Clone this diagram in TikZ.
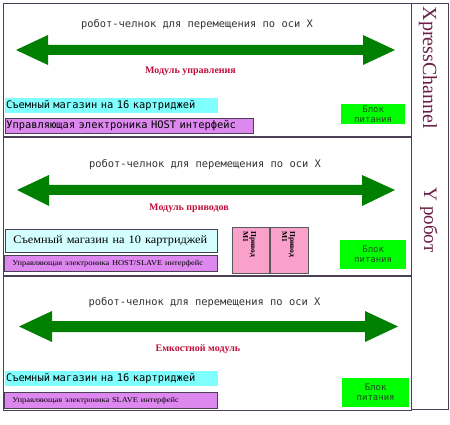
\documentclass[tikz,border=0pt]{standalone}
\usepackage{fontspec}
\setmainfont{Liberation Serif}
\newfontfamily\monof{DejaVu Sans Mono}
\definecolor{framec}{HTML}{4A3F55}
\definecolor{arrowg}{HTML}{008000}
\definecolor{cyanA}{HTML}{80FFFF}
\definecolor{cyanB}{HTML}{D4FFFF}
\definecolor{violetA}{HTML}{DD88EE}
\definecolor{pinkA}{HTML}{F9A0CB}
\definecolor{greenA}{HTML}{00FF00}
\definecolor{redlab}{HTML}{C0103C}
\definecolor{vtext}{HTML}{6A2046}
\definecolor{txtgray}{HTML}{333333}
\definecolor{greentxt}{HTML}{1E4A1E}
\begin{document}
\begin{tikzpicture}[x=1pt,y=-1pt,
  frame/.style={draw=framec, line width=0.9pt},
  bigarrow/.style={fill=arrowg},
  axistext/.style={font=\monof\fontsize{10.4}{12}\selectfont, text=txtgray, inner sep=0pt},
  modlabel/.style={font=\bfseries\fontsize{10}{12}\selectfont, text=redlab, inner sep=0pt},
  lbox/.style={anchor=north west, inner ysep=0pt, align=left},
  monosmall/.style={font=\monof\fontsize{10.4}{12}\selectfont, text=black},
  tinyserif/.style={font=\fontsize{7.5}{9}\selectfont, text=black},
  power/.style={anchor=north west, fill=greenA, inner sep=0pt, align=center,
    font=\monof\fontsize{9}{10}\selectfont, text=greentxt},
  pinkbox/.style={anchor=north west, fill=pinkA, draw=gray!70!black, line width=0.6pt, inner sep=0pt},
  pinktext/.style={rotate=-90, anchor=west, align=left, inner sep=0pt,
    font=\bfseries\fontsize{7.5}{8}\selectfont, text=black},
  vlabel/.style={rotate=-90, font=\fontsize{20}{22}\selectfont, text=vtext, inner sep=0pt}
]
\useasboundingbox (0,0) rectangle (450,425);
\fill[white] (0,0) rectangle (450,425);

% frames
\draw[frame] (3,3) rectangle (411,136);
\draw[frame] (3,137.5) rectangle (411,275);
\draw[frame] (3,276.5) rectangle (411,410);
\draw[frame] (411,3) rectangle (448,409);

% vertical labels
\node[vlabel] (xpc) at (428,68) {XpressChannel};
\node[vlabel, font=\fontsize{19}{21}\selectfont] (yrob) at (429,220) {Y робот};

% ---------- section 1 ----------
\node[axistext] (t1) at (197,25) {робот-челнок для перемещения по оси X};
\fill[bigarrow] (16,50) -- (48,35) -- (48,45) -- (363,45) -- (363,35) -- (395,50)
  -- (363,65) -- (363,55) -- (48,55) -- (48,65) -- cycle;
\node[modlabel] (m1) at (190.5,71) {Модуль управления};
\node[lbox, fill=cyanA, monosmall, inner xsep=1pt, text width=211pt, minimum height=15pt] (c1) at (5,98)
  {\mbox{Съемный магазин на 16 картриджей}};
\node[lbox, fill=violetA, draw=framec, line width=0.8pt, monosmall, inner xsep=1pt, text width=246pt, minimum height=15pt] (v1) at (5,118)
  {\mbox{Управляющая электроника HOST интерфейс}};
\node[power, minimum width=64pt, minimum height=20pt] (g1) at (341,104) {Блок\\питания};

% ---------- section 2 ----------
\node[axistext] (t2) at (205,165) {робот-челнок для перемещения по оси X};
\fill[bigarrow] (17,190) -- (49,175) -- (49,185) -- (362,185) -- (362,175) -- (395,190)
  -- (362,206) -- (362,195) -- (49,195) -- (49,206) -- cycle;
\node[modlabel] (m2) at (189,208) {Модуль приводов};
\node[lbox, fill=cyanB, draw=framec, line width=0.8pt, inner xsep=8pt, text width=196pt, minimum height=23pt,
  font=\fontsize{11.5}{13}\selectfont] (c2) at (5,229)
  {\mbox{\scalebox{1.07}[1]{Съемный магазин на 10 картриджей}}};
\node[lbox, fill=violetA, draw=framec, line width=0.8pt, tinyserif, inner xsep=8pt, text width=197pt, minimum height=16pt] (v2) at (4,255)
  {\mbox{\scalebox{1.12}[1]{Управляющая электроника HOST/SLAVE интерфейс}}};
\node[pinkbox, minimum width=37pt, minimum height=46pt] (p1) at (232,227) {};
\node[pinkbox, minimum width=38pt, minimum height=46pt] (p2) at (270,227) {};
\node[pinktext] (p1t) at (249.5,231) {Привод\\М1};
\node[pinktext] (p2t) at (288.5,231) {Привод\\М1};
\node[power, minimum width=66pt, minimum height=29pt] (g2) at (340,240) {Блок\\питания};

% ---------- section 3 ----------
\node[axistext] (t3) at (204.5,303) {робот-челнок для перемещения по оси X};
\fill[bigarrow] (19,326.5) -- (52,311) -- (52,321) -- (365,321) -- (365,311) -- (398,326.5)
  -- (365,342) -- (365,332) -- (52,332) -- (52,342) -- cycle;
\node[modlabel] (m3) at (198,349) {Емкостной модуль};
\node[lbox, fill=cyanA, monosmall, inner xsep=1pt, text width=211pt, minimum height=15pt] (c3) at (5,371)
  {\mbox{Съемный магазин на 16 картриджей}};
\node[lbox, fill=violetA, draw=framec, line width=0.8pt, tinyserif, inner xsep=8pt, text width=197pt, minimum height=16pt] (v3) at (4,392)
  {\mbox{\scalebox{1.12}[1]{Управляющая электроника SLAVE интерфейс}}};
\node[power, minimum width=67pt, minimum height=29pt] (g3) at (342,378) {Блок\\питания};
\end{tikzpicture}
\end{document}
